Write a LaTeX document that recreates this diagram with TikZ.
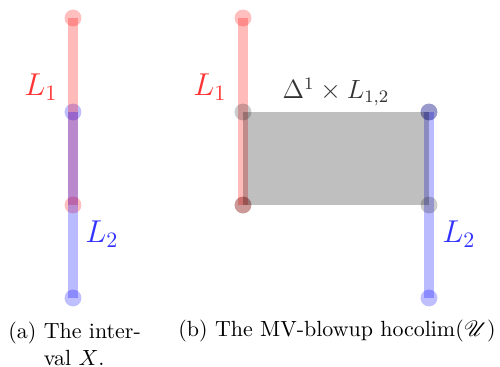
\documentclass[tikz,border=0pt]{standalone}
\usepackage{amsmath,amssymb,mathrsfs}
\usepackage{xcolor}
\usetikzlibrary{positioning}

\begin{document}
\begin{tikzpicture}[x=0.016cm,y=-0.016cm,
  dot/.style={circle,inner sep=0pt,minimum size=0.27cm,fill opacity=0.25},
  reddot/.style={dot,fill=red},
  bluedot/.style={dot,fill=blue},
  greydot/.style={dot,fill=black,fill opacity=0.2},
  seg/.style={line width=0.16cm,draw opacity=0.27},
  lbl/.style={font=\Large}]
\useasboundingbox (0,0) rectangle (500,367);
% (a) the interval X
\begin{scope}
\node[reddot] (a1) at (73,18) {};
\node[bluedot] (a2) at (73,112) {};
\node[reddot] (a3) at (73,205) {};
\node[bluedot] (a4) at (73,298) {};
\draw[seg,red] (a1.center) -- (a3.center);
\draw[seg,blue] (a2.center) -- (a4.center);
\node[lbl,text=red!80] (l1a) at (41,87) {$L_1$};
\node[lbl,text=blue!80] (l2a) at (102,234) {$L_2$};
\end{scope}
% (b) the MV-blowup
\begin{scope}
\node[reddot] (b1) at (243,18) {};
\node[reddot] (b3) at (243,205) {};
\node[bluedot] (c2) at (429,112) {};
\node[bluedot] (c4) at (429,298) {};
\draw[seg,red] (b1.center) -- (b3.center);
\draw[seg,blue] (c2.center) -- (c4.center);
\node[greydot] (g1) at (243,112) {};
\node[greydot] (g2) at (429,112) {};
\node[greydot] (g3) at (243,205) {};
\node[greydot] (g4) at (429,205) {};
\fill[black,fill opacity=0.25] (g1.center) rectangle (g4.center);
\node[lbl,text=red!80] (l1b) at (210,87) {$L_1$};
\node[lbl,text=blue!80] (l2b) at (459,234) {$L_2$};
\node[font=\large,text=black!80] (prod) at (336,92) {$\Delta^1\times L_{1,2}$};
\end{scope}
% captions
\node[anchor=north west,inner sep=0pt] (capa) at (8,320)
  {\begin{tabular}{@{}l@{ }l@{}}(a)&The inter-\\&val $X$.\end{tabular}};
\node[anchor=north west,inner sep=0pt] (capb) at (178,320)
  {(b) The MV-blowup $\operatorname{hocolim}(\mathscr{U})$};
\end{tikzpicture}
\end{document}
